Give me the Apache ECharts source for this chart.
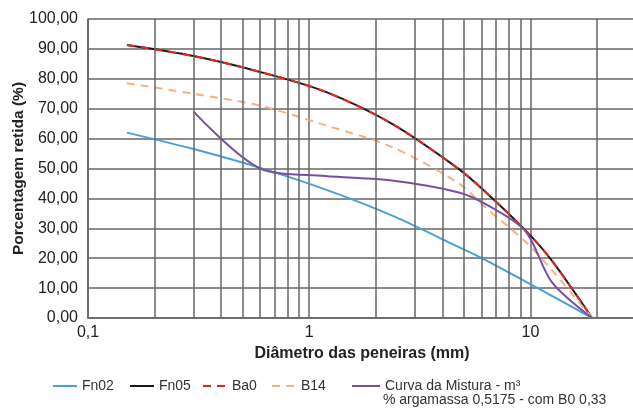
<!DOCTYPE html>
<html>
<head>
<meta charset="utf-8">
<script src="https://cdn.jsdelivr.net/npm/echarts@6/dist/echarts.min.js"></script>
<style>
  html, body { margin: 0; padding: 0; background: #fff; }
  #chart { width: 633px; height: 414px; }
</style>
</head>
<body>
<div id="chart"></div>
<script>
// abertura das peneiras (mm)
const peneiras = [0.15, 0.3, 0.6, 1.18, 2.36, 4.75, 6.3, 9.5, 12.5, 19];
// porcentagem retida (%)
const fn02 = [62, 56.5, 50.2, 43, 34.3, 23.7, 19.3, 12.2, 7.4, 0];
const fn05 = [91.3, 87.6, 82.3, 75.7, 65, 49.8, 42, 29.3, 19.2, 0];
const ba0 = [91.3, 87.6, 82.3, 75.7, 65, 49.8, 42, 29.3, 19.2, 0];
const b14 = [78.5, 75, 71, 64.5, 57.2, 45, 36.8, 25.5, 16, 0];
const mistura = [null, 69, 50, 47.5, 46, 42, 38, 29, 12, 0];
// linhas secundarias da escala log
const gradeX = [0.2, 0.3, 0.4, 0.5, 0.6, 0.7, 0.8, 0.9, 2, 3, 4, 5, 6, 7, 8, 9, 20];
const rotulosX = [0.1, 1, 10];

const fonte = "'Liberation Sans', Arial, sans-serif";
const corGrade = "#666";

function pares(ys) {
  const out = [];
  ys.forEach((y, i) => {
    if (y !== null) out.push([peneiras[i], y]);
  });
  return out;
}

function serie(name, ys, color, type) {
  return {
    name: name,
    type: "line",
    data: pares(ys),
    smooth: 0.3,
    symbol: "none",
    lineStyle: { color: color, width: 2, type: type || "solid" },
    itemStyle: { color: color },
    animation: false
  };
}

// uma legenda por item, para acertar as posicoes
function legenda(name, left, width) {
  return {
    data: [name],
    left: left,
    top: 374,
    itemWidth: width,
    itemHeight: 14,
    itemStyle: { opacity: 0 },
    selectedMode: false,
    textStyle: { fontFamily: fonte, fontSize: 14, color: "#333" }
  };
}

const chart = echarts.init(document.getElementById("chart"));
chart.setOption({
  textStyle: { fontFamily: fonte },
  grid: { left: 88, right: -3, top: 19, bottom: 96, outerBoundsMode: "none" },
  legend: [
    legenda("Fn02", 47, 24),
    legenda("Fn05", 124, 24),
    legenda("Ba0", 197, 24),
    legenda("B14", 266, 24),
    legenda("Curva da Mistura - m³", 346, 28)
  ],
  graphic: [
    {
      type: "text",
      left: 383,
      top: 393,
      style: {
        text: "% argamassa 0,5175 - com B0 0,33",
        font: "14px " + fonte,
        fill: "#333"
      }
    }
  ],
  xAxis: {
    type: "log",
    logBase: 10,
    min: 0.1,
    max: 30,
    name: "Diâmetro das peneiras (mm)",
    nameLocation: "middle",
    nameGap: 28,
    nameTextStyle: { fontFamily: fonte, fontSize: 16, fontWeight: "bold", color: "#222" },
    axisLine: { show: true, lineStyle: { color: corGrade, width: 1.5 } },
    axisTick: { show: false },
    axisLabel: {
      fontSize: 16,
      color: "#222",
      margin: 7,
      formatter: v => {
        const r = rotulosX.find(t => Math.abs(t - v) < 1e-6);
        return r === undefined ? "" : String(r).replace(".", ",");
      }
    },
    splitLine: { show: true, lineStyle: { color: corGrade, width: 1.5 } }
  },
  yAxis: {
    type: "value",
    min: 0,
    max: 100,
    interval: 10,
    name: "Porcentagem retida (%)",
    nameLocation: "middle",
    nameGap: 61,
    nameMoveOverlap: false,
    nameTextStyle: { fontFamily: fonte, fontSize: 15.5, fontWeight: "bold", color: "#222" },
    axisLine: { show: true, lineStyle: { color: corGrade, width: 1.5 } },
    axisTick: { show: false },
    axisLabel: {
      fontSize: 16,
      color: "#222",
      margin: 10,
      formatter: v => v.toFixed(2).replace(".", ",")
    },
    splitLine: { show: true, lineStyle: { color: corGrade, width: 1.5 } }
  },
  series: [
    {
      name: "grade",
      type: "line",
      data: [],
      z: 1,
      silent: true,
      animation: false,
      markLine: {
        silent: true,
        animation: false,
        symbol: "none",
        label: { show: false },
        lineStyle: { color: corGrade, width: 1.5, type: "solid" },
        emphasis: { disabled: true },
        data: gradeX.map(x => ({ xAxis: x }))
      }
    },
    serie("Fn02", fn02, "#4a9fd8"),
    serie("Fn05", fn05, "#1a1a1a"),
    serie("Ba0", ba0, "#e8251c", [8, 6]),
    serie("B14", b14, "#f4b183", [8, 6]),
    serie("Curva da Mistura - m³", mistura, "#7a4ea3")
  ]
});
</script>
</body>
</html>
